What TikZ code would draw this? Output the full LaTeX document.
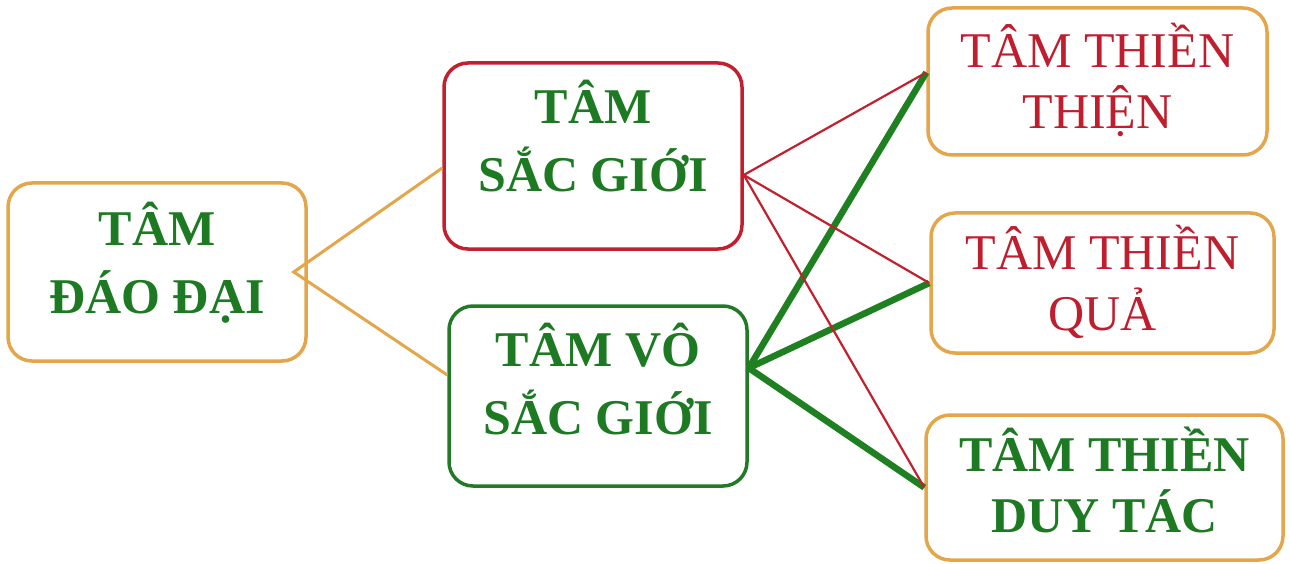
\documentclass[tikz,border=0pt]{standalone}
\usepackage{fontspec}
\setmainfont{Liberation Serif}
\definecolor{tgreen}{HTML}{1D7A22}
\definecolor{tred}{HTML}{BE1E2D}
\definecolor{borange}{HTML}{E3A64A}
\definecolor{bred}{HTML}{C2202E}
\definecolor{bgreen}{HTML}{237A26}
\definecolor{lgreen}{HTML}{1E8020}
\begin{document}
\begin{tikzpicture}[x=1pt,y=-1pt,
  box/.style={draw, line width=3.5pt, rounded corners=24pt, fill=white, inner sep=0pt},
  gbig/.style={align=center, inner sep=0pt, text=tgreen, font=\fontsize{50}{68}\selectfont\bfseries},
  gsmall/.style={align=center, inner sep=0pt, text=tgreen, font=\fontsize{50}{61}\selectfont\bfseries},
  rsmall/.style={align=center, inner sep=0pt, text=tred, font=\fontsize{50}{61}\selectfont},
  olink/.style={draw=borange, line width=3pt},
  rlink/.style={draw=bred, line width=2.2pt},
  glink/.style={draw=lgreen, line width=6.5pt}]
\useasboundingbox (0,0) rectangle (1290,564);
\fill[white] (0,0) rectangle (1290,564);

\node[box, draw=borange, minimum width=298pt, minimum height=178pt] (L) at (157,272) {};
\node[box, draw=bred, minimum width=298pt, minimum height=186pt] (S) at (593,156) {};
\node[box, draw=bgreen, minimum width=298pt, minimum height=180pt] (V) at (598,396) {};
\node[box, draw=borange, minimum width=339pt, minimum height=147pt] (T1) at (1097.5,81.5) {};
\node[box, draw=borange, minimum width=343pt, minimum height=140pt] (T2) at (1102.5,283) {};
\node[box, draw=borange, minimum width=357pt, minimum height=145pt] (T3) at (1104.5,487.5) {};

\node[gbig] (Ltext) at ([yshift=9pt]L.center) {TÂM\\ĐÁO ĐẠI};
\node[gbig] (Stext) at ([yshift=20pt]S.center) {TÂM\\SẮC GIỚI};
\node[gbig] (Vtext) at ([yshift=17pt]V.center) {TÂM VÔ\\SẮC GIỚI};
\node[rsmall] (T1text) at ([yshift=2pt]T1.center) {TÂM THIỀN\\THIỆN};
\node[rsmall] (T2text) at ([yshift=1pt]T2.center) {TÂM THIỀN\\QUẢ};
\node[gsmall] (T3text) at ([yshift=8pt]T3.center) {TÂM THIỀN\\DUY TÁC};

\coordinate (apex) at ([xshift=-14pt]L.east);
\coordinate (sl) at ([yshift=-12pt]S.west);
\coordinate (vl) at ([yshift=21pt]V.west);
\coordinate (sr) at ([yshift=-19pt]S.east);
\coordinate (vr) at ([yshift=28pt]V.east);
\coordinate (t1l) at ([yshift=9pt]T1.west);

\draw[olink] (sl) -- (apex) -- (vl);
\draw[glink] (vr) -- (t1l);
\draw[glink] (vr) -- (T2.west);
\draw[glink] (vr) -- (T3.west);
\draw[rlink] (sr) -- (t1l);
\draw[rlink] (sr) -- (T2.west);
\draw[rlink] (sr) -- (T3.west);
\end{tikzpicture}
\end{document}
